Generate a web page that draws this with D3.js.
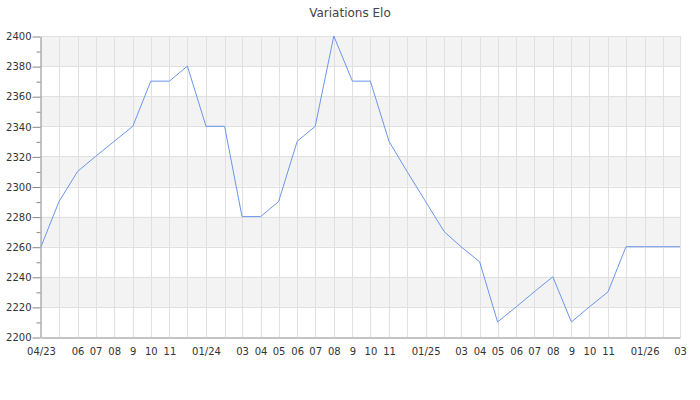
<!DOCTYPE html>
<html>
<head>
<meta charset="utf-8">
<script src="https://cdn.jsdelivr.net/npm/d3@7"></script>
<style>
body { margin: 0; background: #fff; }
text { font-family: "DejaVu Sans", sans-serif; }
</style>
</head>
<body>
<script>
var width = 700;
var height = 400;

// one point per month
var months = ["2023-04","2023-05","2023-06","2023-07","2023-08","2023-09","2023-10","2023-11","2023-12",
              "2024-01","2024-02","2024-03","2024-04","2024-05","2024-06","2024-07","2024-08","2024-09",
              "2024-10","2024-11","2024-12","2025-01","2025-02","2025-03","2025-04","2025-05","2025-06",
              "2025-07","2025-08","2025-09","2025-10","2025-11","2025-12","2026-01","2026-02","2026-03"];
var elo = [2260,2290,2310,2320,2330,2340,2370,2370,2380,2340,2340,2280,
           2280,2290,2330,2340,2400,2370,2370,2330,2310,2290,2270,2260,
           2250,2210,2220,2230,2240,2210,2220,2230,2260,2260,2260,2260];
var monthLabels = ["04/23","","06","07","08","9","10","11","","01/24","","03",
                   "04","05","06","07","08","9","10","11","","01/25","","03",
                   "04","05","06","07","08","9","10","11","","01/26","","03"];
var yMin = 2200, yMax = 2400;

// plot box ("top" is taken by window.top, so use other names)
var plotLeft = 41, plotRight = 680, plotTop = 36, plotBottom = 337;
var parse = d3.timeParse("%Y-%m");
var dates = months.map(parse);

var x = d3.scaleTime()
    .domain([dates[0], dates[dates.length - 1]])
    .range([plotLeft, plotRight]);
var y = d3.scaleLinear()
    .domain([yMin, yMax])
    .range([plotBottom, plotTop]);

var svg = d3.select("body")
    .append("svg")
    .attr("width", width)
    .attr("height", height);

// alternating bands
var bands = d3.range(yMin + 20, yMax, 40);
svg.selectAll("rect.band")
    .data(bands)
    .enter()
    .append("rect")
    .attr("x", plotLeft)
    .attr("width", plotRight - plotLeft)
    .attr("y", function(d) { return y(d + 20); })
    .attr("height", function(d) { return y(d) - y(d + 20); })
    .attr("fill", "#f3f3f3");

// horizontal grid
svg.selectAll("line.hgrid")
    .data(d3.range(yMin + 20, yMax + 1, 20))
    .enter()
    .append("line")
    .attr("x1", plotLeft).attr("x2", plotRight + 0.5)
    .attr("y1", function(d) { return Math.round(y(d)) + 0.5; })
    .attr("y2", function(d) { return Math.round(y(d)) + 0.5; })
    .attr("stroke", "#e0e0e0");

// vertical grid
svg.selectAll("line.vgrid")
    .data(dates.slice(1))
    .enter()
    .append("line")
    .attr("x1", function(d) { return Math.round(x(d)) + 0.5; })
    .attr("x2", function(d) { return Math.round(x(d)) + 0.5; })
    .attr("y1", plotTop).attr("y2", plotBottom)
    .attr("stroke", "#e0e0e0");

// y axis
var yAxis = d3.axisLeft(y)
    .tickValues(d3.range(yMin, yMax + 1, 10))
    .tickSize(0)
    .tickFormat(function(d) { return d % 20 === 0 ? d : ""; });
var gy = svg.append("g")
    .attr("transform", "translate(" + (plotLeft - 0.5) + ",0.5)")
    .call(yAxis);
gy.select(".domain").attr("stroke", "#888");
gy.selectAll(".tick line")
    .attr("x2", function(d) { return d % 20 === 0 ? -8 : -4; })
    .attr("stroke", "#888");
gy.selectAll(".tick text")
    .attr("x", -9)
    .attr("font-size", "10px")
    .attr("font-family", "DejaVu Sans")
    .attr("fill", "#333");

// x axis
var xAxis = d3.axisBottom(x)
    .tickValues(dates)
    .tickSize(0)
    .tickFormat(function(d, i) { return monthLabels[i]; });
var gx = svg.append("g")
    .attr("transform", "translate(0," + (plotBottom + 0.5) + ")")
    .call(xAxis);
gx.select(".domain").attr("stroke", "#888");
gx.selectAll(".tick text")
    .attr("y", 10)
    .attr("font-size", "10px")
    .attr("font-family", "DejaVu Sans")
    .attr("fill", "#333");

// elo line
var line = d3.line()
    .x(function(d, i) { return x(dates[i]); })
    .y(function(d) { return y(d); });
svg.append("path")
    .datum(elo)
    .attr("d", line)
    .attr("fill", "none")
    .attr("stroke", "#6b96ec")
    .attr("stroke-width", 1);

svg.append("text")
    .attr("x", 350)
    .attr("y", 17)
    .attr("text-anchor", "middle")
    .attr("font-size", "12px")
    .attr("fill", "#444")
    .text("Variations Elo");
</script>
</body>
</html>
